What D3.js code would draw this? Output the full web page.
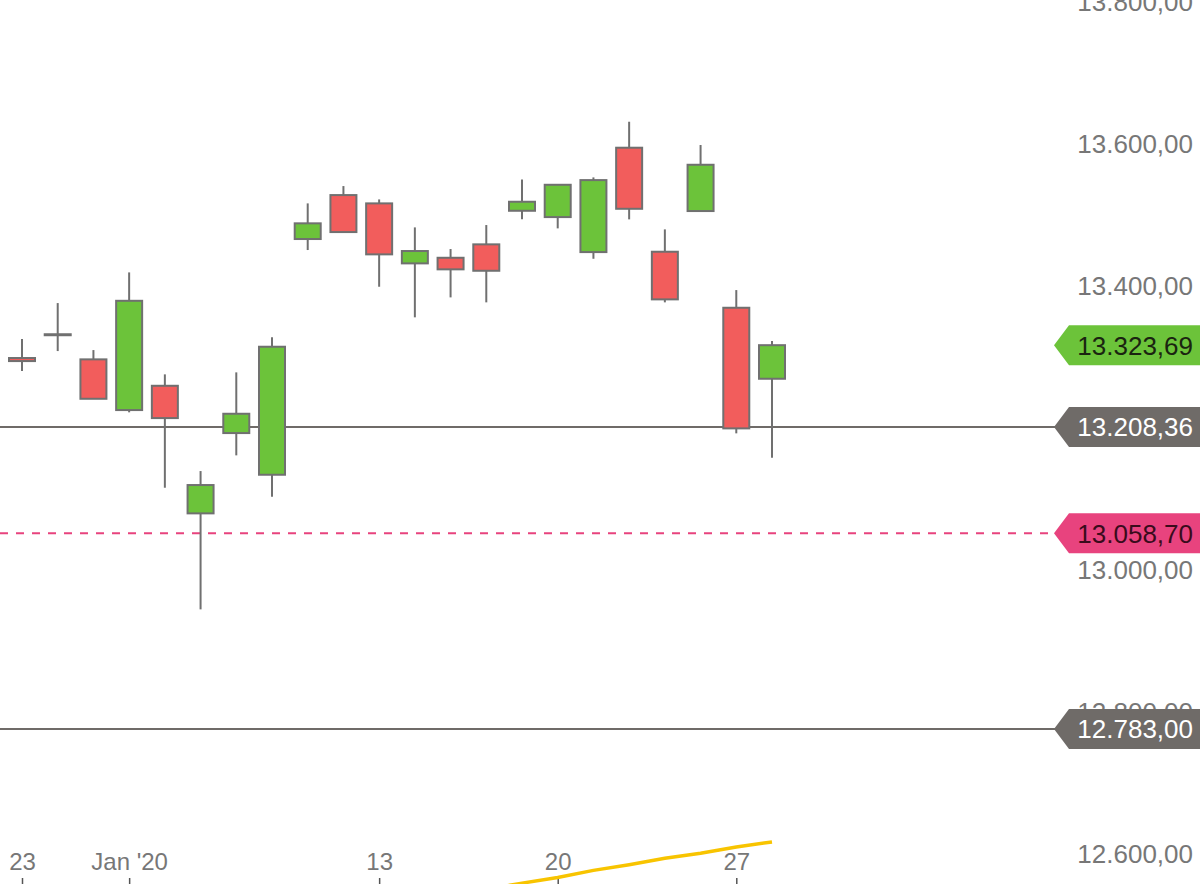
<!DOCTYPE html>
<html>
<head>
<meta charset="utf-8">
<script src="https://cdn.jsdelivr.net/npm/d3@7"></script>
<style>
  html, body { margin: 0; padding: 0; background: #fff; }
  svg { display: block; font-family: "Liberation Sans", Arial, sans-serif; }
</style>
</head>
<body>
<svg id="chart" width="1200" height="884"></svg>
<script>
// ---- data ----
const dates = ["2019-12-23","2019-12-27","2019-12-30","2020-01-02","2020-01-03","2020-01-06","2020-01-07","2020-01-08","2020-01-09","2020-01-10","2020-01-13","2020-01-14","2020-01-15","2020-01-16","2020-01-17","2020-01-20","2020-01-21","2020-01-22","2020-01-23","2020-01-24","2020-01-27","2020-01-28"];
const openVals  = [13305.6,13338.4,13303.7,13232.3,13266.5,13086.8,13199.9,13141.2,13473.2,13535.1,13523.4,13438.9,13446.8,13465.7,13513.0,13504.1,13454.8,13601.8,13455.3,13512.6,13376.4,13276.4];
const highVals  = [13332.3,13383.0,13316.8,13426.2,13282.6,13146.4,13285.4,13334.7,13523.4,13547.8,13529.0,13489.6,13459.1,13492.9,13557.2,13550.5,13560.0,13638.4,13486.8,13605.6,13401.3,13329.5];
const lowVals   = [13287.2,13315.4,13248.2,13229.1,13122.9,12951.6,13168.5,13110.2,13457.7,13483.0,13406.0,13362.9,13391.0,13384.0,13500.9,13488.2,13445.4,13500.9,13384.0,13512.0,13199.5,13165.1];
const closeVals = [13301.3,13338.4,13248.2,13386.2,13221.0,13126.7,13227.1,13321.5,13495.3,13483.0,13451.6,13456.3,13430.5,13428.5,13525.7,13549.6,13556.2,13515.8,13388.2,13577.8,13206.5,13323.69];
// long moving average (only the visible tail)
const maDates  = ["2020-01-16","2020-01-17","2020-01-20","2020-01-21","2020-01-22","2020-01-23","2020-01-24","2020-01-27","2020-01-28"];
const maValues = [12557,12566,12574,12584,12592,12601,12608,12617,12624];
// axis ticks
const xTickDates  = ["2019-12-23","2020-01-02","2020-01-13","2020-01-20","2020-01-27"];
const xTickLabels = ["23","Jan '20","13","20","27"];
const yTickValues = [12600,12800,13000,13200,13400,13600,13800];
// reference levels
const levelValues = [13208.36, 13058.70, 12783.00];
const lastPrice = 13323.69;

// ---- scales ----
const W = 1200, H = 884;
const x = d3.scalePoint().domain(dates).range([22, 772]);
const y = d3.scaleLinear().domain([12600, 13800]).range([859, 7]);
const fmt = v => d3.formatLocale({decimal: ",", thousands: ".", grouping: [3], currency: ["", ""]}).format(",.2f")(v);

const svg = d3.select("#chart");
svg.append("defs").append("clipPath").attr("id", "plot")
  .append("rect").attr("x", 0).attr("y", 0).attr("width", 1060).attr("height", H);

const grey = "#6f6b68";
const stroke = "#707070";

// y axis labels
const yAxisG = svg.append("g").attr("transform", `translate(1193,0)`)
  .call(d3.axisRight(y).tickValues(yTickValues).tickSize(0).tickPadding(0).tickFormat(fmt));
yAxisG.select(".domain").remove();
yAxisG.selectAll("text").attr("text-anchor", "end").attr("dy", "0.15em")
  .attr("font-size", 26).attr("fill", "#777777").attr("font-family", "'Liberation Sans', Arial, sans-serif");

// x axis
const xAxisG = svg.append("g").attr("transform", `translate(0,878)`)
  .call(d3.axisBottom(x).tickValues(xTickDates).tickSize(7).tickPadding(0)
    .tickFormat(d => xTickLabels[xTickDates.indexOf(d)]));
xAxisG.select(".domain").remove();
xAxisG.selectAll(".tick line").attr("stroke", "#555").attr("stroke-width", 1.5);
xAxisG.selectAll("text").attr("y", -8).attr("dy", 0)
  .attr("font-size", 24).attr("fill", "#777777").attr("font-family", "'Liberation Sans', Arial, sans-serif");

const plot = svg.append("g").attr("clip-path", "url(#plot)");

// yellow MA line
plot.append("path")
  .datum(maDates.map((d, i) => [d, maValues[i]]))
  .attr("fill", "none").attr("stroke", "#f8c400").attr("stroke-width", 3.5)
  .attr("d", d3.line().x(d => x(d[0])).y(d => y(d[1])));

// reference lines
plot.append("line").attr("x1", 0).attr("x2", 1060)
  .attr("y1", y(levelValues[0])).attr("y2", y(levelValues[0]))
  .attr("stroke", grey).attr("stroke-width", 2);
plot.append("line").attr("x1", 0).attr("x2", 1060)
  .attr("y1", y(levelValues[1])).attr("y2", y(levelValues[1]))
  .attr("stroke", "#e8437e").attr("stroke-width", 2).attr("stroke-dasharray", "8,8");
plot.append("line").attr("x1", 0).attr("x2", 1060)
  .attr("y1", y(levelValues[2])).attr("y2", y(levelValues[2]))
  .attr("stroke", grey).attr("stroke-width", 2);

// candles
const bw = 26;
const candles = plot.selectAll(".candle").data(dates).join("g").attr("class", "candle");
candles.append("line")
  .attr("x1", d => x(d)).attr("x2", d => x(d))
  .attr("y1", (d, i) => y(highVals[i])).attr("y2", (d, i) => y(lowVals[i]))
  .attr("stroke", stroke).attr("stroke-width", 2);
candles.append("rect")
  .attr("x", d => x(d) - bw / 2).attr("width", bw)
  .attr("y", (d, i) => y(Math.max(openVals[i], closeVals[i])) - (openVals[i] === closeVals[i] ? 0.5 : 0))
  .attr("height", (d, i) => Math.max(1, Math.abs(y(openVals[i]) - y(closeVals[i]))))
  .attr("fill", (d, i) => closeVals[i] > openVals[i] ? "#6cc33a" : (closeVals[i] < openVals[i] ? "#f25d5c" : stroke))
  .attr("stroke", stroke).attr("stroke-width", 2);

// price tags
const tags = [
  {v: lastPrice, fill: "#6cc33a", text: "#1a2410"},
  {v: levelValues[0], fill: "#6f6b68", text: "#ffffff"},
  {v: levelValues[1], fill: "#e8437e", text: "#3a0b1c"},
  {v: levelValues[2], fill: "#6f6b68", text: "#ffffff"}
];
const tagG = svg.selectAll(".tag").data(tags).join("g").attr("class", "tag")
  .attr("transform", d => `translate(0,${y(d.v)})`);
tagG.append("path")
  .attr("d", "M1054,0 L1069,-20 L1200,-20 L1200,20 L1069,20 Z")
  .attr("fill", d => d.fill);
tagG.append("text")
  .attr("x", 1193).attr("y", 0).attr("dy", "0.36em")
  .attr("text-anchor", "end").attr("font-size", 26)
  .attr("fill", d => d.text)
  .text(d => fmt(d.v));
</script>
</body>
</html>
